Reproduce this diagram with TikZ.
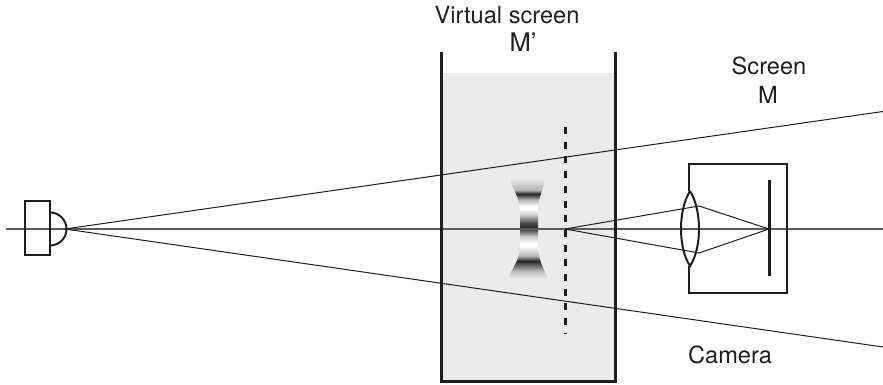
\documentclass[tikz,border=0pt]{standalone}
\usepackage{fontspec}
\setmainfont{TeX Gyre Heros}
\usepackage{tikz}
\usetikzlibrary{calc}

\definecolor{tankfill}{HTML}{EBEBEB}
\definecolor{axisgray}{HTML}{5A5A5A}
\definecolor{ink}{HTML}{1E1E1E}

% interference bands of the virtual image
\pgfdeclareverticalshading{fringes}{100bp}{%
  color(0bp)=(gray!20);
  color(25bp)=(gray!20);
  color(28.1bp)=(gray!45);
  color(33.7bp)=(black!85);
  color(36.2bp)=(gray!60);
  color(39.3bp)=(gray!25);
  color(41.3bp)=(white);
  color(42.9bp)=(white);
  color(46.4bp)=(gray!45);
  color(50.5bp)=(black!85);
  color(53.1bp)=(black!70);
  color(57.7bp)=(gray!30);
  color(60.2bp)=(white);
  color(61.7bp)=(white);
  color(64.8bp)=(gray!55);
  color(67.9bp)=(black!85);
  color(69.9bp)=(gray!60);
  color(75bp)=(gray!20);
  color(100bp)=(gray!20)}

\tikzset{
  wall/.style={draw=ink, line width=3pt},
  frame/.style={draw=ink, line width=2pt},
  ray/.style={draw=ink, line width=1pt},
  axisline/.style={draw=axisgray, line width=1.3pt},
  screenline/.style={draw=ink, line width=3pt, dash pattern=on 7pt off 7.7pt},
  txt/.style={font=\fontsize{23.6}{28}\selectfont, text=ink, anchor=base, inner sep=0pt}
}

\begin{document}
\begin{tikzpicture}[x=1pt, y=-1pt]
\useasboundingbox (0,0) rectangle (883,385);

%Points on the optical axis
\coordinate (axL) at (6,229);
\coordinate (axR) at (883,229);
\coordinate (src) at (65,229);
\coordinate (virt) at (565,229);
\coordinate (focus) at (769,229);
\coordinate (upEnd) at (883,111.5);
\coordinate (lowEnd) at (883,347);
\coordinate (lensUp) at (699,206);
\coordinate (lensLow) at (699,253);
\coordinate (scrTop) at (565,127);
\coordinate (scrBot) at (565,334);

%Tank contents
\fill[tankfill] (441,73) rectangle (615,381);
\shade[shading=fringes] (510,180) .. controls (516,195) and (520,200) .. (520,212)
  -- (520,246) .. controls (520,258) and (514,266) .. (508,278)
  -- (548,278) .. controls (542,266) and (538,258) .. (538,246)
  -- (538,212) .. controls (538,200) and (541,195) .. (545,180) -- cycle;

%Axis and rays
\draw[axisline] (axL) -- (axR);
\draw[ray] (src) -- (upEnd);
\draw[ray] (src) -- (lowEnd);
\draw[ray] (virt) -- (lensUp) -- (focus);
\draw[ray] (virt) -- (lensLow) -- (focus);

%Virtual screen
\draw[screenline] (scrTop) -- (scrBot);

%Tank walls
\draw[wall] (441,52) -- (441,381) -- (615,381) -- (615,52);

%Camera
\draw[frame] (689,191) -- (689,164) -- (787,164) -- (787,293) -- (689,293) -- (689,266);
\draw[frame] (690,191) .. controls (678,210) and (678,248) .. (690,266)
  .. controls (702,248) and (702,210) .. (690,191);
\draw[ink, line width=3pt] (769,180) -- (769,276);

%Source
\draw[frame] (25,201) rectangle (50,255);
\draw[frame] (50,212.5) arc[start angle=-90, end angle=90, radius=16.5];

%Labels
\node[txt] (virtlbl) at (507,24) {Virtual screen};
\node[txt, font=\fontsize{25.6}{30}\selectfont] (virtname) at (523,52) {M’};
\node[txt] (scrlbl) at (769,75) {Screen};
\node[txt] (scrname) at (768,104) {M};
\node[txt] (camlbl) at (730,363) {Camera};

\end{tikzpicture}
\end{document}
